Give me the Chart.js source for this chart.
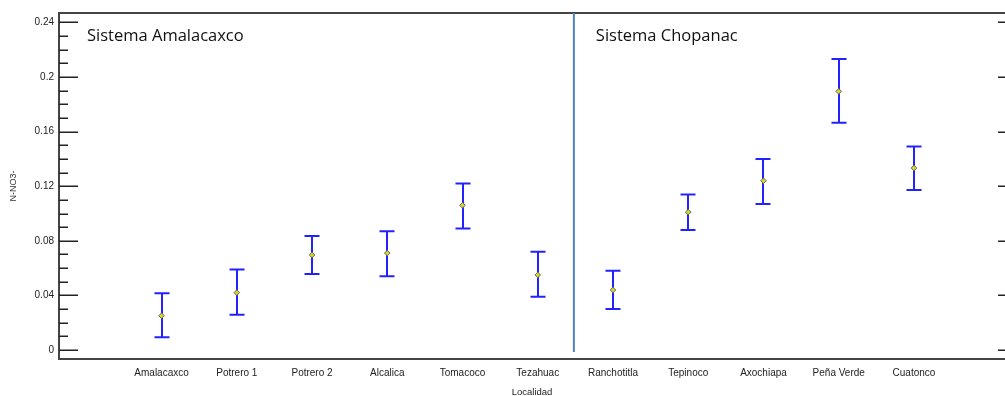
<!DOCTYPE html>
<html>
<head>
<meta charset="utf-8">
<script src="https://cdn.jsdelivr.net/npm/chart.js@4/dist/chart.umd.min.js"></script>
<style>
  html, body { margin: 0; padding: 0; background: #fff; }
  #wrap { width: 1005px; height: 396px; position: relative; }
</style>
</head>
<body>
<div id="wrap"><canvas id="chart"></canvas></div>
<script>
// data
var localidades = ['Amalacaxco', 'Potrero 1', 'Potrero 2', 'Alcalica', 'Tomacoco', 'Tezahuac',
                   'Ranchotitla', 'Tepinoco', 'Axochiapa', 'Peña Verde', 'Cuatonco'];
var medias   = [0.0251, 0.0420, 0.0696, 0.0710, 0.1060, 0.0550, 0.0440, 0.1010, 0.1240, 0.1895, 0.1333];
var inferior = [0.0093, 0.0259, 0.0557, 0.0540, 0.0890, 0.0390, 0.0300, 0.0880, 0.1070, 0.1665, 0.1172];
var superior = [0.0415, 0.0590, 0.0835, 0.0870, 0.1220, 0.0720, 0.0580, 0.1140, 0.1400, 0.2132, 0.1490];
var yTicks = [0, 0.04, 0.08, 0.12, 0.16, 0.2, 0.24];
var yMinorTicks = [0.01, 0.02, 0.03, 0.05, 0.06, 0.07, 0.09, 0.10, 0.11, 0.13, 0.14, 0.15,
                   0.17, 0.18, 0.19, 0.21, 0.22, 0.23];
var sistemas = ['Sistema Amalacaxco', 'Sistema Chopanac'];
var separador = 5.48; // between Tezahuac and Ranchotitla

var puntos = [];
for (var i = 0; i < localidades.length; i++) {
  puntos.push({ x: i, y: medias[i] });
}

var marcos = {
  id: 'marcos',
  beforeDatasetsDraw: function(chart) {
    var ctx = chart.ctx, a = chart.chartArea;
    var xs = chart.scales.x, ys = chart.scales.y;
    ctx.save();
    // top border
    ctx.strokeStyle = '#444';
    ctx.lineWidth = 2;
    ctx.beginPath();
    ctx.moveTo(a.left - 1, a.top);
    ctx.lineTo(a.right, a.top);
    ctx.stroke();
    // inward ticks
    ctx.strokeStyle = '#222';
    ctx.lineWidth = 1.5;
    yTicks.forEach(function(v) {
      var y = Math.round(ys.getPixelForValue(v)) + 0.25;
      ctx.beginPath();
      ctx.moveTo(a.left, y); ctx.lineTo(a.left + 19, y);
      ctx.moveTo(a.right - 7, y); ctx.lineTo(a.right, y);
      ctx.stroke();
    });
    yMinorTicks.forEach(function(v) {
      var y = Math.round(ys.getPixelForValue(v)) + 0.25;
      ctx.beginPath();
      ctx.moveTo(a.left, y); ctx.lineTo(a.left + 9, y);
      ctx.stroke();
    });
    // separator line
    var sx = xs.getPixelForValue(separador);
    ctx.strokeStyle = '#4f81bd';
    ctx.lineWidth = 2;
    ctx.beginPath();
    ctx.moveTo(sx, a.top);
    ctx.lineTo(sx, ys.getPixelForValue(-0.0015));
    ctx.stroke();
    // system titles
    ctx.fillStyle = '#111';
    ctx.font = '16.5px "Open Sans", sans-serif';
    ctx.textBaseline = 'middle';
    ctx.fillText(sistemas[0], a.left + 28, a.top + 23);
    ctx.fillText(sistemas[1], sx + 22, a.top + 23);
    // error bars
    ctx.strokeStyle = '#2222ff';
    ctx.lineWidth = 2;
    for (var i = 0; i < localidades.length; i++) {
      var x = Math.round(xs.getPixelForValue(i));
      var y1 = ys.getPixelForValue(inferior[i]);
      var y2 = ys.getPixelForValue(superior[i]);
      ctx.beginPath();
      ctx.moveTo(x, y1); ctx.lineTo(x, y2);
      ctx.moveTo(x - 7.5, y1); ctx.lineTo(x + 7.5, y1);
      ctx.moveTo(x - 7.5, y2); ctx.lineTo(x + 7.5, y2);
      ctx.stroke();
    }
    ctx.restore();
  }
};

var ctx = document.getElementById('chart').getContext('2d');
var chart = new Chart(ctx, {
  type: 'scatter',
  data: {
    datasets: [{
      data: puntos,
      pointStyle: 'rectRot',
      pointRadius: 2.8,
      pointBackgroundColor: '#d8d820',
      pointBorderColor: '#666',
      pointBorderWidth: 1
    }]
  },
  options: {
    responsive: true,
    maintainAspectRatio: false,
    animation: false,
    layout: { autoPadding: false, padding: { top: 13, right: 0, left: 0, bottom: 0 } },
    plugins: { legend: { display: false }, tooltip: { enabled: false } },
    scales: {
      x: {
        type: 'linear',
        min: -1.363,
        max: 11.21,
        afterBuildTicks: function(s) {
          s.ticks = localidades.map(function(n, i) { return { value: i }; });
        },
        afterFit: function(s) { s.height = 37; s.paddingLeft = 0; s.paddingRight = 0; },
        grid: { drawOnChartArea: false, drawTicks: false },
        border: { color: '#444', width: 2 },
        ticks: {
          autoSkip: false,
          maxRotation: 0,
          padding: 8,
          color: '#222',
          font: { family: 'Liberation Sans, Arial', size: 10 },
          callback: function(v) { return localidades[v]; }
        },
        title: {
          display: true,
          text: 'Localidad',
          color: '#222',
          padding: { top: 4, bottom: 0 },
          font: { family: 'Liberation Sans, Arial', size: 9.5, lineHeight: 0.8 }
        }
      },
      y: {
        min: -0.0066,
        max: 0.2469,
        afterBuildTicks: function(s) {
          s.ticks = yTicks.map(function(v) { return { value: v }; });
        },
        afterFit: function(s) { s.width = 59; },
        grid: { drawOnChartArea: false, drawTicks: false },
        border: { color: '#444', width: 2 },
        ticks: {
          padding: 5,
          color: '#222',
          font: { family: 'Liberation Sans, Arial', size: 10 },
          callback: function(v) { return String(+v.toFixed(2)); }
        },
        title: {
          display: true,
          text: 'N-NO3-',
          color: '#333',
          padding: { top: 8, bottom: 0 },
          font: { family: 'Liberation Sans, Arial', size: 9 }
        }
      }
    }
  },
  plugins: [marcos]
});
</script>
</body>
</html>
